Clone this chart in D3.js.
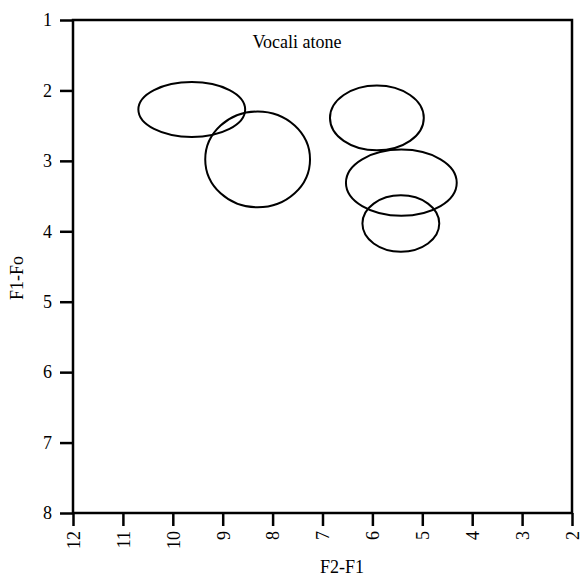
<!DOCTYPE html>
<html lang="en">
<head>
    <meta charset="UTF-8">
    <title>Vocali atone</title>
    <script src="https://cdn.jsdelivr.net/npm/d3@7/dist/d3.min.js"></script>
    <style>
        body {
            margin: 0;
            background: #fff;
        }
        text {
            font-family: "Liberation Serif", "Times New Roman", serif;
            font-size: 18px;
            fill: #000;
        }
        .axis path,
        .axis line {
            fill: none;
            stroke: #000;
            stroke-width: 2.5px;
        }
        .ellipse {
            fill: none;
            stroke: #000;
            stroke-width: 2px;
        }
    </style>
</head>
<body>
<script>
    // ellipse centres and half-widths, in data units
    var cx = [9.62, 8.30, 5.91, 5.42, 5.43],
        cy = [2.27, 2.98, 2.39, 3.31, 3.89],
        rx = [1.07, 1.05, 0.94, 1.11, 0.77],
        ry = [0.39, 0.68, 0.46, 0.47, 0.40];

    var xTicks = [12, 11, 10, 9, 8, 7, 6, 5, 4, 3, 2],
        yTicks = [1, 2, 3, 4, 5, 6, 7, 8];

    var width = 583, height = 580;
    var margin = {top: 20, right: 11, bottom: 67, left: 73},
        plotW = width - margin.left - margin.right,
        plotH = height - margin.top - margin.bottom;

    var x = d3.scaleLinear().domain([12, 2]).range([0, plotW]);
    var y = d3.scaleLinear().domain([1, 8]).range([0, plotH]);

    var svg = d3.select("body").append("svg")
            .attr("width", width)
            .attr("height", height);

    var g = svg.append("g")
            .attr("transform", "translate(" + margin.left + "," + margin.top + ")");

    // frame
    g.append("rect")
            .attr("width", plotW)
            .attr("height", plotH)
            .attr("fill", "none")
            .attr("stroke", "#000")
            .attr("stroke-width", 2.5);

    var xAxis = g.append("g")
            .attr("class", "axis")
            .attr("transform", "translate(0," + plotH + ")")
            .call(d3.axisBottom(x).tickValues(xTicks).tickSize(13).tickSizeOuter(0).tickFormat(d3.format("d")));
    xAxis.select(".domain").remove();
    xAxis.selectAll("text")
            .attr("x", 0)
            .attr("y", 0)
            .attr("dy", "0.35em")
            .attr("transform", "translate(0,18) rotate(-90)")
            .attr("text-anchor", "end")
            .style("text-anchor", "end");

    var yAxis = g.append("g")
            .attr("class", "axis")
            .call(d3.axisLeft(y).tickValues(yTicks).tickSize(13).tickSizeOuter(0).tickPadding(8).tickFormat(d3.format("d")));
    yAxis.select(".domain").remove();

    svg.selectAll("text").style("font-size", "18px").style("font-family", "'Liberation Serif', serif");

    g.selectAll(".ellipse")
            .data(cx)
            .enter().append("ellipse")
            .attr("class", "ellipse")
            .attr("cx", function (d) { return x(d); })
            .attr("cy", function (d, i) { return y(cy[i]); })
            .attr("rx", function (d, i) { return x(12 - rx[i]) - x(12); })
            .attr("ry", function (d, i) { return y(1 + ry[i]) - y(1); });

    svg.append("text")
            .attr("x", 297)
            .attr("y", 48)
            .attr("text-anchor", "middle")
            .text("Vocali atone");

    svg.append("text")
            .attr("x", 342)
            .attr("y", 573)
            .attr("text-anchor", "middle")
            .text("F2-F1");

    svg.append("text")
            .attr("transform", "translate(23,278) rotate(-90)")
            .attr("text-anchor", "middle")
            .text("F1-Fo");
</script>
</body>
</html>
